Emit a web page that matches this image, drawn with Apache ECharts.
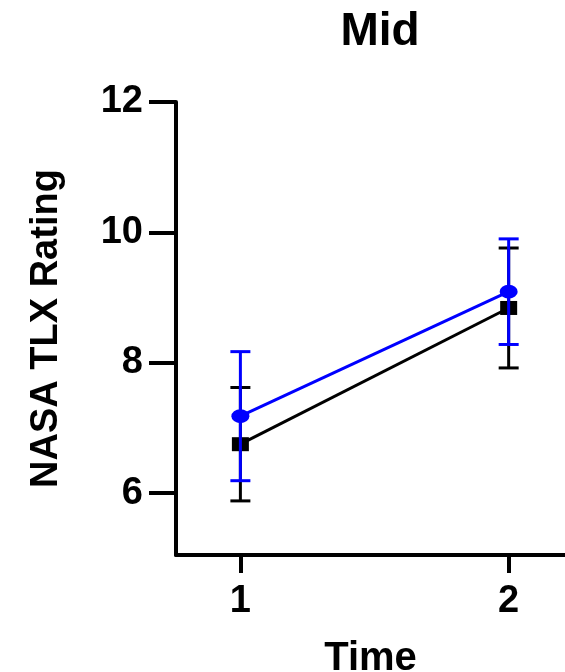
<!DOCTYPE html>
<html>
<head>
<meta charset="utf-8">
<script src="https://cdn.jsdelivr.net/npm/echarts@6/dist/echarts.min.js"></script>
<style>
  html, body { margin: 0; padding: 0; background: #fff; }
  #chart { width: 565px; height: 672px; }
</style>
</head>
<body>
<div id="chart"></div>
<script>
// Time points and group means with their error (± SD)
const times = [1, 2];
const blackMean = [6.75, 8.84];
const blackErr = [0.87, 0.92];
const blueMean = [7.18, 9.09];
const blueErr = [0.99, 0.81];
const yTicks = [6, 8, 10, 12];
const xTicks = [1, 2];

const FONT = '"Liberation Sans", Arial, sans-serif';

function pairs(xs, ys) { return xs.map((x, i) => [x, ys[i]]); }
function errRows(xs, m, e) { return xs.map((x, i) => [x, m[i] - e[i], m[i] + e[i]]); }

// Vertical error bar with flat caps
function errorBar(color) {
  return function (params, api) {
    const x = api.value(0);
    const lo = api.coord([x, api.value(1)]);
    const hi = api.coord([x, api.value(2)]);
    const half = 10;
    const style = { stroke: color, lineWidth: 3 };
    return {
      type: 'group',
      children: [
        { type: 'line', shape: { x1: lo[0], y1: lo[1], x2: hi[0], y2: hi[1] }, style },
        { type: 'line', shape: { x1: lo[0] - half, y1: lo[1], x2: lo[0] + half, y2: lo[1] }, style },
        { type: 'line', shape: { x1: hi[0] - half, y1: hi[1], x2: hi[0] + half, y2: hi[1] }, style }
      ]
    };
  };
}

const chart = echarts.init(document.getElementById('chart'), null, { renderer: 'canvas' });
chart.setOption({
  animation: false,
  backgroundColor: '#fff',
  title: {
    text: 'Mid',
    left: 375,
    top: 4,
    textAlign: 'center',
    textStyle: { fontFamily: FONT, fontWeight: 'bold', fontSize: 46, color: '#000' }
  },
  grid: { left: 176, right: 0, top: 102, bottom: 117, containLabel: false, outerBoundsMode: 'none' },
  xAxis: {
    type: 'value',
    min: 0.76,
    max: 2.21,
    name: 'Time',
    nameLocation: 'middle',
    nameGap: 84,
    nameTextStyle: { fontFamily: FONT, fontWeight: 'bold', fontSize: 40, color: '#000' },
    axisLine: { show: true, onZero: false, lineStyle: { color: '#000', width: 4 } },
    axisTick: { show: true, length: 18, customValues: xTicks, lineStyle: { color: '#000', width: 4 } },
    axisLabel: {
      customValues: xTicks, margin: 28,
      fontFamily: FONT, fontWeight: 'bold', fontSize: 38, color: '#000'
    },
    splitLine: { show: false }
  },
  yAxis: {
    type: 'value',
    min: 5.05,
    max: 12,
    name: 'NASA TLX Rating',
    nameLocation: 'middle',
    nameRotate: 90,
    nameGap: 110,
    nameTextStyle: { fontFamily: FONT, fontWeight: 'bold', fontSize: 38, color: '#000' },
    axisLine: { show: true, onZero: false, lineStyle: { color: '#000', width: 4 } },
    axisTick: { show: true, length: 27, customValues: yTicks, lineStyle: { color: '#000', width: 4 } },
    axisLabel: {
      customValues: yTicks, margin: 33,
      fontFamily: FONT, fontWeight: 'bold', fontSize: 38, color: '#000'
    },
    splitLine: { show: false }
  },
  series: [
    {
      type: 'custom',
      renderItem: errorBar('#000'),
      data: errRows(times, blackMean, blackErr),
      encode: { x: 0, y: [1, 2] },
      z: 2
    },
    {
      type: 'line',
      data: pairs(times, blackMean),
      symbol: 'rect',
      symbolSize: [17, 14],
      lineStyle: { color: '#000', width: 3 },
      itemStyle: { color: '#000' },
      z: 3
    },
    {
      type: 'custom',
      renderItem: errorBar('#0000ff'),
      data: errRows(times, blueMean, blueErr),
      encode: { x: 0, y: [1, 2] },
      z: 4
    },
    {
      type: 'line',
      data: pairs(times, blueMean),
      symbol: 'circle',
      symbolSize: [18, 14],
      lineStyle: { color: '#0000ff', width: 3 },
      itemStyle: { color: '#0000ff' },
      z: 5
    }
  ]
});
</script>
</body>
</html>
